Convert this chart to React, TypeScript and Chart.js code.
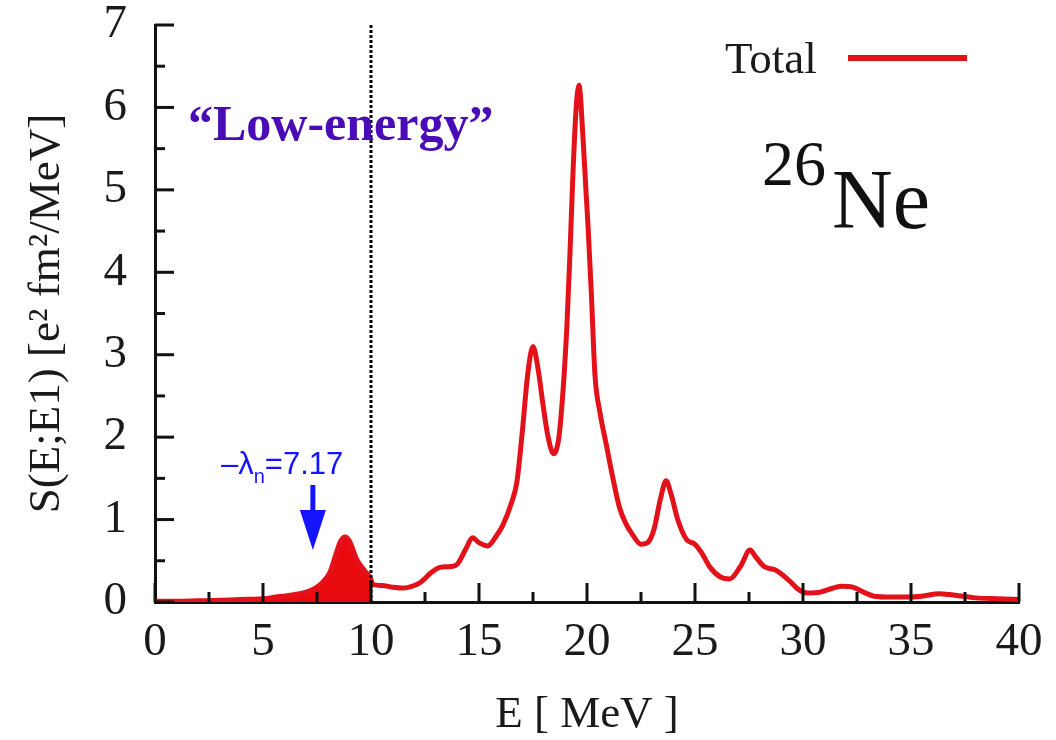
import React, { useEffect, useRef } from "react";
import { Chart, registerables } from "chart.js";

Chart.register(...registerables);

// E1 strength function of 26Ne
const energy = [
  0, 1, 2, 3, 4, 5, 5.6, 6.2, 6.7, 7.2, 7.5, 7.8, 8.1, 8.4, 8.6, 8.8, 9.0, 9.35, 9.7, 9.95,
  10.1, 10.5, 11, 11.5, 12, 12.3, 12.8, 13.2, 13.7, 14.0, 14.4, 14.7, 15.0, 15.4, 15.8, 16.1,
  16.5, 16.75, 17.0, 17.25, 17.5, 17.75, 17.96, 18.2, 18.45, 18.7, 18.9, 19.07, 19.2, 19.35,
  19.5, 19.63, 19.8, 19.95, 20.05, 20.2, 20.37, 20.6, 20.9, 21.2, 21.5, 21.8, 22.1, 22.5,
  22.8, 23.1, 23.4, 23.66, 23.9, 24.2, 24.6, 25.0, 25.3, 25.7, 26.2, 26.6, 27.1, 27.55, 27.8,
  28.2, 28.7, 29.0, 29.4, 29.8, 30.2, 30.8, 31.4, 31.8, 32.3, 32.8, 33.3, 34.0, 34.8, 35.5,
  36.3, 36.8, 37.4, 38.0, 39.0, 40,
];
const strength = [
  0.01, 0.01, 0.015, 0.02, 0.03, 0.04, 0.06, 0.08, 0.1, 0.14, 0.18, 0.25, 0.36, 0.6, 0.74, 0.79, 0.74, 0.51, 0.38, 0.3,
  0.21, 0.2, 0.18, 0.17, 0.2, 0.24, 0.36, 0.42, 0.43, 0.46, 0.65, 0.78, 0.72, 0.68, 0.8, 0.93,
  1.2, 1.45, 2.05, 2.75, 3.1, 2.8, 2.4, 2.0, 1.8, 2.0, 2.6, 3.35, 4.15, 5.2,
  6.0, 6.27, 5.7, 5.0, 4.55, 3.75, 2.75, 2.3, 1.9, 1.5, 1.15, 0.95, 0.82, 0.7,
  0.72, 0.88, 1.25, 1.47, 1.3, 1.0, 0.76, 0.7, 0.6, 0.42, 0.3, 0.28, 0.43, 0.63, 0.55,
  0.43, 0.39, 0.34, 0.25, 0.15, 0.11, 0.12, 0.17, 0.19, 0.18, 0.12, 0.07, 0.06, 0.06, 0.07,
  0.1, 0.09, 0.07, 0.05, 0.04, 0.03,
];

const xTickValues = [0, 5, 10, 15, 20, 25, 30, 35, 40];
const yTickValues = [0, 1, 2, 3, 4, 5, 6, 7];
const xMinorStep = 2.5;
const yMinorStep = 0.5;

const LOW_ENERGY_CUT = 10;
const NEUTRON_THRESHOLD = 7.17;

const seriesLabel = "Total";
const RED = "#e3121a";
const SERIF = "'Liberation Serif', 'Times New Roman', serif";
const SANS = "'Liberation Sans', Arial, sans-serif";

const overlayPlugin = {
  id: "overlay",
  afterDatasetsDraw(chart: any) {
    const { ctx, chartArea, scales } = chart;
    const xs = scales.x;
    const ys = scales.y;
    ctx.save();
    // dashed boundary of the low-energy region
    const xd = xs.getPixelForValue(LOW_ENERGY_CUT);
    ctx.setLineDash([3, 2]);
    ctx.lineWidth = 3;
    ctx.strokeStyle = "#000";
    ctx.beginPath();
    ctx.moveTo(xd, chartArea.top);
    ctx.lineTo(xd, chartArea.bottom);
    ctx.stroke();
    ctx.setLineDash([]);

    // inward ticks
    ctx.lineWidth = 3;
    ctx.strokeStyle = "#111";
    for (let v = xs.min; v <= xs.max + 1e-9; v += xMinorStep) {
      const major = xTickValues.some((t) => Math.abs(t - v) < 1e-6);
      const px = xs.getPixelForValue(v);
      ctx.beginPath();
      ctx.moveTo(px, chartArea.bottom);
      ctx.lineTo(px, chartArea.bottom - (major ? 19 : 10));
      ctx.stroke();
    }
    for (let v = ys.min; v <= ys.max + 1e-9; v += yMinorStep) {
      const major = yTickValues.some((t) => Math.abs(t - v) < 1e-6);
      const py = ys.getPixelForValue(v);
      ctx.beginPath();
      ctx.moveTo(chartArea.left, py);
      ctx.lineTo(chartArea.left + (major ? 19 : 10), py);
      ctx.stroke();
    }

    // legend
    ctx.fillStyle = "#1a1a1a";
    ctx.font = `45px ${SERIF}`;
    ctx.textBaseline = "alphabetic";
    ctx.textAlign = "left";
    ctx.fillText(seriesLabel, 725, 73);
    ctx.strokeStyle = RED;
    ctx.lineWidth = 6;
    ctx.beginPath();
    ctx.moveTo(848, 58);
    ctx.lineTo(967, 58);
    ctx.stroke();

    // nucleus label
    ctx.fillStyle = "#111";
    ctx.font = `64px ${SERIF}`;
    ctx.fillText("26", 762, 185);
    ctx.font = `84px ${SERIF}`;
    ctx.fillText("Ne", 832, 228);

    // Low-energy label
    ctx.fillStyle = "#4a0cb6";
    ctx.font = `bold 50px ${SERIF}`;
    ctx.fillText("\u201CLow-energy\u201D", 188, 140);

    // neutron threshold label
    ctx.fillStyle = "#1414ff";
    ctx.font = `31px ${SANS}`;
    let tx = 221;
    const part1 = "\u2013\u03BB";
    ctx.fillText(part1, tx, 474);
    tx += ctx.measureText(part1).width;
    ctx.font = `20px ${SANS}`;
    ctx.fillText("n", tx, 483);
    tx += ctx.measureText("n").width;
    ctx.font = `31px ${SANS}`;
    ctx.fillText("=7.17", tx, 474);

    // arrow
    const ax = xs.getPixelForValue(NEUTRON_THRESHOLD) + 3;
    ctx.strokeStyle = "#1414ff";
    ctx.lineWidth = 5;
    ctx.beginPath();
    ctx.moveTo(ax, 485);
    ctx.lineTo(ax, 512);
    ctx.stroke();
    ctx.beginPath();
    ctx.moveTo(ax - 13, 510);
    ctx.lineTo(ax + 13, 510);
    ctx.lineTo(ax, 550);
    ctx.closePath();
    ctx.fill();
    ctx.restore();
  },
};

export default function App() {
  const ref = useRef<HTMLCanvasElement | null>(null);
  useEffect(() => {
    if (!ref.current) return;
    const pts = energy.map((e, i) => ({ x: e, y: strength[i] }));
    const lowPts = pts.filter((p) => p.x <= LOW_ENERGY_CUT);
    const chart = new Chart(ref.current, {
      type: "line",
      data: {
        datasets: [
          {
            label: seriesLabel,
            data: pts,
            borderColor: RED,
            borderWidth: 5,
            pointRadius: 0,
            fill: false,
            cubicInterpolationMode: "monotone",
          },
          {
            label: "low",
            data: lowPts,
            borderWidth: 0,
            borderColor: "rgba(0,0,0,0)",
            backgroundColor: "#e80a0f",
            pointRadius: 0,
            fill: "origin",
            cubicInterpolationMode: "monotone",
          },
        ],
      },
      options: {
        animation: false,
        responsive: false,
        devicePixelRatio: 1,
        layout: { padding: { top: 25, right: 37, left: 0, bottom: 0 } },
        plugins: { legend: { display: false }, tooltip: { enabled: false } },
        scales: {
          x: {
            type: "linear",
            min: 0,
            max: 40,
            grid: { display: false, drawTicks: false },
            border: { display: true, color: "#111", width: 3 },
            afterBuildTicks: (s: any) => {
              s.ticks = xTickValues.map((v) => ({ value: v }));
            },
            afterFit: (s: any) => {
              s.height = 138;
              s.paddingLeft = 0;
              s.paddingRight = 0;
              s.paddingTop = 0;
              s.paddingBottom = 0;
            },
            ticks: {
              autoSkip: false,
              maxRotation: 0,
              padding: 12,
              color: "#1a1a1a",
              font: { family: SERIF, size: 47 },
            },
            title: {
              display: true,
              text: "E [ MeV ]",
              color: "#1a1a1a",
              font: { family: SERIF, size: 45, lineHeight: 1 },
              padding: { top: 2, bottom: 2 },
            },
          },
          y: {
            type: "linear",
            min: 0,
            max: 7,
            grid: { display: false, drawTicks: false },
            border: { display: true, color: "#111", width: 3 },
            afterBuildTicks: (s: any) => {
              s.ticks = yTickValues.map((v) => ({ value: v }));
            },
            afterFit: (s: any) => {
              s.width = 155;
              s.paddingLeft = 0;
              s.paddingRight = 0;
              s.paddingTop = 0;
              s.paddingBottom = 0;
            },
            ticks: {
              autoSkip: false,
              padding: 28,
              color: "#1a1a1a",
              font: { family: SERIF, size: 47 },
            },
            title: {
              display: true,
              text: "S(E;E1) [e\u00B2 fm\u00B2/MeV]",
              color: "#1a1a1a",
              font: { family: SERIF, size: 45, lineHeight: 1 },
              padding: { top: 25, bottom: 25 },
            },
          },
        },
      },
      plugins: [overlayPlugin],
    });
    return () => chart.destroy();
  }, []);
  return (
    <div style={{ position: "absolute", left: 0, top: 0, width: 1056, height: 740, background: "#fff" }}>
      <canvas ref={ref} width={1056} height={740} />
    </div>
  );
}
